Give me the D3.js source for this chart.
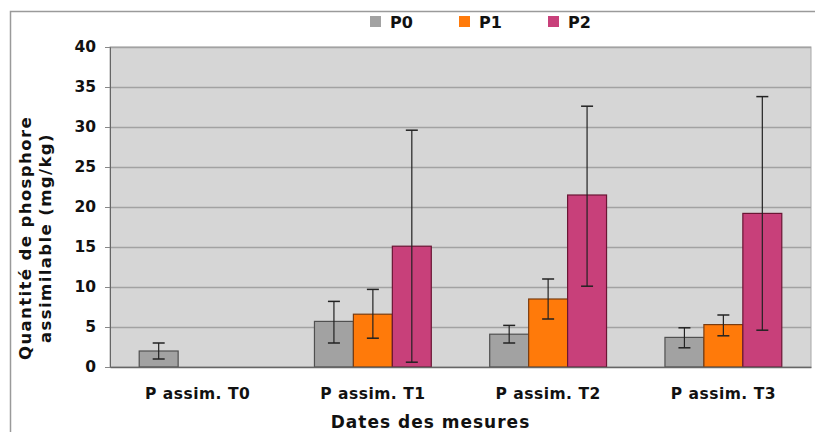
<!DOCTYPE html>
<html>
<head>
<meta charset="utf-8">
<script src="https://cdn.jsdelivr.net/npm/d3@7"></script>
<style>
  body { margin: 0; background: #fff; }
  text { font-family: "DejaVu Sans", Verdana, sans-serif; font-weight: bold; fill: #111; }
</style>
</head>
<body>
<div id="area"></div>
<script>
// data
let categories = ["P assim. T0", "P assim. T1", "P assim. T2", "P assim. T3"];
let seriesNames = ["P0", "P1", "P2"];
let p0 = [2.0, 5.7, 4.1, 3.7];
let p1 = [null, 6.6, 8.5, 5.3];
let p2 = [null, 15.1, 21.5, 19.2];
let p0Low  = [1.0, 3.0, 3.0, 2.4],  p0High = [3.0, 8.2, 5.2, 4.9];
let p1Low  = [null, 3.6, 6.0, 3.9], p1High = [null, 9.7, 11.0, 6.5];
let p2Low  = [null, 0.6, 10.1, 4.6], p2High = [null, 29.6, 32.6, 33.8];
let yTicks = [0, 5, 10, 15, 20, 25, 30, 35, 40];
let colors = ["#a2a2a2", "#ff7a0a", "#c8407a"];
let borders = ["#505050", "#7a3c10", "#6a1634"];

let values = [p0, p1, p2];
let lows = [p0Low, p1Low, p2Low];
let highs = [p0High, p1High, p2High];

let width = 815, height = 432;
let margin = { top: 47, right: 4, bottom: 65, left: 110 };
let innerW = width - margin.left - margin.right,
    innerH = height - margin.top - margin.bottom;

let svg = d3.select("#area").append("svg")
    .attr("width", width)
    .attr("height", height);

// outer frame
svg.append("path")
    .attr("d", "M10.5,432 V11.5 H815")
    .attr("fill", "none")
    .attr("stroke", "#9a9a9a")
    .attr("stroke-width", 1.5);

let g = svg.append("g")
    .attr("transform", translate(margin.left, margin.top));

let x = d3.scaleBand().domain(categories).range([0, innerW]);
let y = d3.scaleLinear().domain([0, 40]).range([innerH, 0]);
// bar width: 3 bars + 1.5 bar gap per category
let barW = x.bandwidth() / 4.5;
let xs = d3.scaleBand().domain(seriesNames).range([0, barW * 3]);

g.append("rect")
    .attr("width", innerW)
    .attr("height", innerH)
    .attr("fill", "#d6d6d6")
    .attr("stroke", "#a8a8a8");

g.append("g").selectAll("line")
  .data(yTicks.slice(1))
  .join("line")
    .attr("x1", 0).attr("x2", innerW)
    .attr("y1", d => y(d) + 0.5).attr("y2", d => y(d) + 0.5)
    .attr("stroke", "#a2a2a2")
    .attr("stroke-width", 1.5);

seriesNames.forEach(function(s, si) {
  let rows = categories.map((c, i) => ({c: c, v: values[si][i], lo: lows[si][i], hi: highs[si][i]}))
                       .filter(d => d.v != null);
  let grp = g.append("g");
  grp.selectAll("rect")
    .data(rows)
    .join("rect")
      .attr("x", d => x(d.c) + barW * 0.75 + xs(s))
      .attr("y", d => y(d.v))
      .attr("width", barW)
      .attr("height", d => y(0) - y(d.v))
      .attr("fill", colors[si])
      .attr("stroke", borders[si])
      .attr("stroke-width", 1.2);

  let eb = grp.selectAll("g.err")
    .data(rows)
    .join("g")
      .attr("class", "err")
      .attr("transform", d => translate(x(d.c) + barW * 0.75 + xs(s) + barW / 2, 0));
  eb.append("line")
      .attr("y1", d => y(d.lo)).attr("y2", d => y(d.hi))
      .attr("stroke", "#222").attr("stroke-width", 1.2);
  eb.append("line")
      .attr("x1", -6).attr("x2", 6)
      .attr("y1", d => y(d.hi)).attr("y2", d => y(d.hi))
      .attr("stroke", "#222").attr("stroke-width", 1.5);
  eb.append("line")
      .attr("x1", -6).attr("x2", 6)
      .attr("y1", d => y(d.lo)).attr("y2", d => y(d.lo))
      .attr("stroke", "#222").attr("stroke-width", 1.5);
});

// axes
let yAxis = g.append("g")
    .call(d3.axisLeft(y).tickValues(yTicks).tickSize(5).tickPadding(9));
yAxis.select(".domain").attr("stroke", "#666");
yAxis.selectAll(".tick line").attr("stroke", "#888");
yAxis.selectAll("text").style("font-size", "15.5px").attr("fill", "#111");

let xAxis = g.append("g")
    .attr("transform", translate(0, innerH))
    .call(d3.axisBottom(x).tickSize(0).tickPadding(21));
xAxis.select(".domain").attr("stroke", "#666").attr("stroke-width", 1.5);
xAxis.selectAll("text")
    .style("font-size", "15.5px")
    .style("letter-spacing", "0.5px")
    .attr("fill", "#111");

svg.append("text")
    .attr("x", margin.left + innerW / 2 - 30)
    .attr("y", 428)
    .attr("text-anchor", "middle")
    .style("font-size", "17px")
    .style("letter-spacing", "1px")
    .text("Dates des mesures");

let yl = svg.append("text")
    .attr("transform", "translate(31, 238) rotate(-90)")
    .attr("text-anchor", "middle")
    .style("font-size", "16.5px")
    .style("letter-spacing", "1.4px");
yl.append("tspan").attr("x", 0).attr("dy", 0).text("Quantité de phosphore");
yl.append("tspan").attr("x", 0).attr("dy", 20).text("assimilable (mg/kg)");

// legend
let legend = svg.append("g").selectAll("g")
  .data(seriesNames)
  .join("g")
    .attr("transform", (d, i) => translate(370 + i * 89, 16));
legend.append("rect")
    .attr("width", 11).attr("height", 11)
    .attr("fill", (d, i) => colors[i]);
legend.append("text")
    .attr("x", 20).attr("y", 12)
    .style("font-size", "16px")
    .text(d => d);

function translate(x, y=0) {
  return "translate({x}, {y})"
          .replace("{x}", x)
          .replace("{y}", y);
}
</script>
</body>
</html>
